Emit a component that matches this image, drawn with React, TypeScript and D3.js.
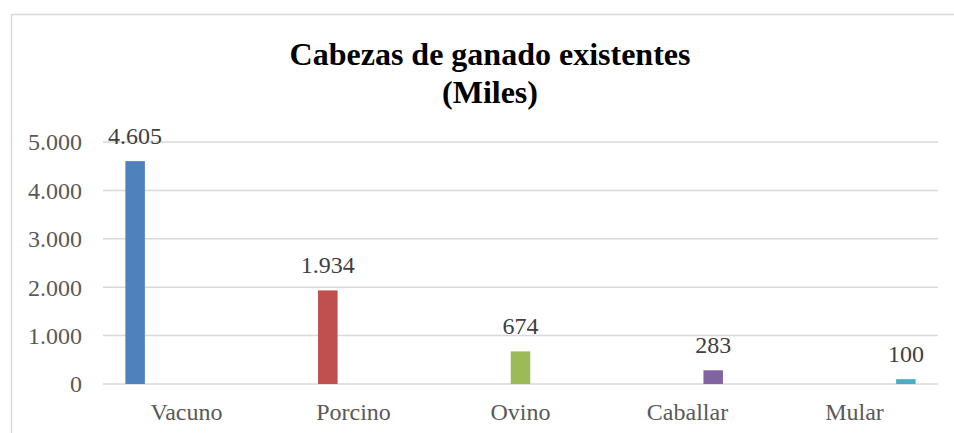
import React from "react";
import * as d3 from "d3";

const categories = ["Vacuno", "Porcino", "Ovino", "Caballar", "Mular"];
const series = ["Vacuno", "Porcino", "Ovino", "Caballar", "Mular"];
const values = [4605, 1934, 674, 283, 100];
const valueLabels = ["4.605", "1.934", "674", "283", "100"];
const yTicks = [0, 1000, 2000, 3000, 4000, 5000];
const yTickLabels = ["0", "1.000", "2.000", "3.000", "4.000", "5.000"];
const colors = ["#4F81BD", "#C0504D", "#9BBB59", "#8064A2", "#4BACC6"];
const titleLines = ["Cabezas de ganado existentes", "(Miles)"];

const W = 954;
const H = 433;
const font = "'Liberation Serif', 'Times New Roman', serif";

export default function App() {
  const x0 = d3.scaleBand<string>().domain(categories).range([103, 938]);
  const x1 = d3
    .scaleBand<string>()
    .domain(series)
    .range([0, x0.bandwidth()])
    .paddingInner(0.24)
    .paddingOuter(0.87);
  const y = d3.scaleLinear().domain([0, 5000]).range([384, 142]);

  return (
    <svg
      width={W}
      height={H}
      style={{ position: "absolute", left: 0, top: 0, background: "#fff" }}
    >
      <rect x={11.5} y={14.5} width={960} height={440} fill="#fff" stroke="#d9d9d9" strokeWidth={1.5} />
      {titleLines.map((t, i) => (
        <text
          key={t}
          x={490}
          y={65 + i * 38}
          textAnchor="middle"
          fontFamily={font}
          fontWeight="bold"
          fontSize={32}
          fill="#000"
        >
          {t}
        </text>
      ))}
      {yTicks.map((t, i) => (
        <g key={t}>
          <line x1={103} x2={938} y1={y(t)} y2={y(t)} stroke="#d9d9d9" strokeWidth={1.5} />
          <text
            x={82}
            y={y(t)}
            dy="0.35em"
            textAnchor="end"
            fontFamily={font}
            fontSize={24}
            fill="#595959"
          >
            {yTickLabels[i]}
          </text>
        </g>
      ))}
      {categories.map((c, i) => {
        const bx = (x0(c) as number) + (x1(series[i]) as number);
        const bw = x1.bandwidth();
        return (
          <g key={c}>
            <rect x={bx} y={y(values[i])} width={bw} height={y(0) - y(values[i])} fill={colors[i]} />
            <text
              x={bx + bw / 2}
              y={y(values[i]) - 17}
              textAnchor="middle"
              fontFamily={font}
              fontSize={24}
              fill="#404040"
            >
              {valueLabels[i]}
            </text>
            <text
              x={(x0(c) as number) + x0.bandwidth() / 2}
              y={420}
              textAnchor="middle"
              fontFamily={font}
              fontSize={24}
              fill="#595959"
            >
              {c}
            </text>
          </g>
        );
      })}
    </svg>
  );
}
